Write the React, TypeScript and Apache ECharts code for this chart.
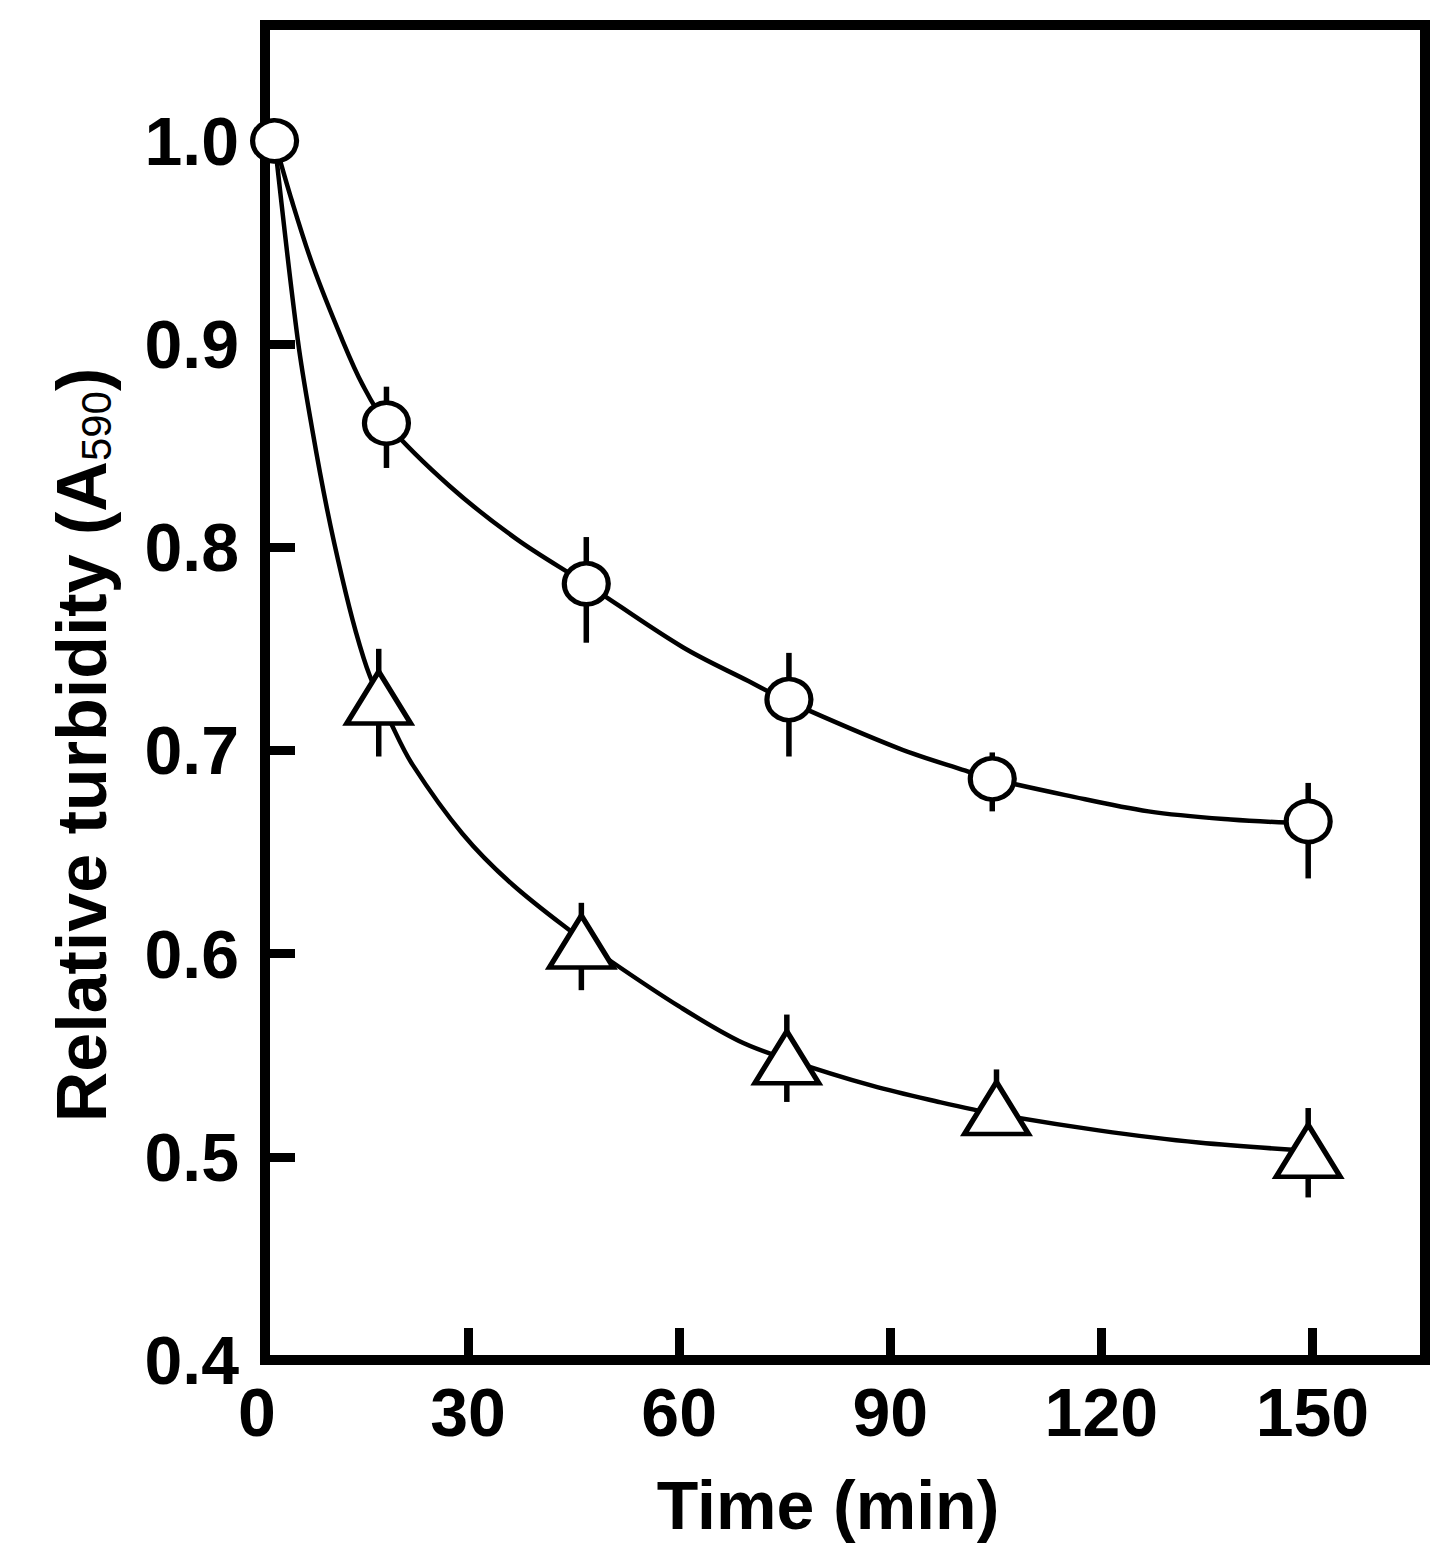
import React, { useEffect, useRef } from "react";
import * as echarts from "echarts";

// Marker data
const circleTime = [2.5, 18.4, 46.8, 75.6, 104.5, 149.4];
const circleValue = [1.0, 0.861, 0.782, 0.725, 0.686, 0.665];
const circleUpper = [1.0, 0.879, 0.805, 0.748, 0.699, 0.684];
const circleLower = [1.0, 0.839, 0.753, 0.697, 0.67, 0.637];

const triangleTime = [17.3, 46.1, 75.3, 105.1, 149.4];
const triangleValue = [0.726, 0.606, 0.549, 0.524, 0.503];
const triangleUpper = [0.75, 0.625, 0.57, 0.543, 0.524];
const triangleLower = [0.697, 0.582, 0.527, 0.512, 0.48];

// Fitted curves
const circleFitTime = [2.5, 5.0, 8.0, 12.0, 15.0, 18.4, 27.4, 36.9, 46.8, 60.4, 69.9, 75.6, 91.2, 100.7, 104.5, 114.9, 126.7, 138.4, 149.4];
const circleFitValue = [1.0, 0.97, 0.938, 0.903, 0.88, 0.861, 0.83, 0.804, 0.782, 0.751, 0.734, 0.724, 0.701, 0.69, 0.686, 0.678, 0.67, 0.666, 0.664];

const triangleFitTime = [2.5, 5.8, 7.9, 10.0, 12.1, 14.0, 16.0, 19.1, 22.1, 29.2, 36.3, 46.1, 50.4, 60.0, 68.5, 75.3, 87.4, 96.9, 105.1, 119.6, 133.8, 149.4];
const triangleFitValue = [1.0, 0.902, 0.857, 0.818, 0.785, 0.759, 0.737, 0.713, 0.693, 0.659, 0.634, 0.607, 0.596, 0.574, 0.557, 0.548, 0.535, 0.527, 0.521, 0.513, 0.507, 0.503];

// Axis ticks / labels
const xLabelValues = [0, 30, 60, 90, 120, 150];
const xTickValues = [30, 60, 90, 120, 150];
const yLabelValues = [0.4, 0.5, 0.6, 0.7, 0.8, 0.9, 1.0];
const yTickValues = [0.5, 0.6, 0.7, 0.8, 0.9, 1.0];

const xTitle = "Time (min)";
const yTitleMain = "Relative turbidity (A";
const yTitleSub = "590";
const yTitleEnd = ")";

export default function App() {
  const ref = useRef<HTMLDivElement>(null);

  useEffect(() => {
    document.body.style.margin = "0";
    const chart = echarts.init(ref.current as HTMLDivElement, null, { renderer: "svg" });
    const font = "'Liberation Sans', Arial, Helvetica, sans-serif";

    const errorBar = (params: any, api: any) => {
      const x = api.value(0);
      const p1 = api.coord([x, api.value(1)]);
      const p2 = api.coord([x, api.value(2)]);
      return {
        type: "line",
        shape: { x1: p1[0], y1: p1[1], x2: p2[0], y2: p2[1] },
        style: { stroke: "#000", lineWidth: 5.5 },
      };
    };

    const circleBars = circleTime
      .map((t, i) => [t, circleLower[i], circleUpper[i]])
      .filter((d) => d[2] - d[1] > 0);
    const triangleBars = triangleTime.map((t, i) => [t, triangleLower[i], triangleUpper[i]]);

    const option: any = {
      animation: false,
      backgroundColor: "#fff",
      grid: { left: 257, right: 29, top: 25, bottom: 208, containLabel: false, outerBoundsMode: "none" },
      xAxis: {
        type: "value",
        min: 0,
        max: 166,
        interval: 30,
        axisLine: { show: false },
        splitLine: { show: false },
        axisTick: {
          show: true,
          inside: true,
          length: 32,
          customValues: xTickValues,
          lineStyle: { color: "#000", width: 9 },
        },
        axisLabel: {
          customValues: xLabelValues,
          color: "#000",
          fontFamily: font,
          fontWeight: "bold",
          fontSize: 68,
          margin: 18,
        },
      },
      yAxis: {
        type: "value",
        min: 0.4,
        max: 1.057,
        interval: 0.1,
        offset: -8,
        axisLine: { show: false },
        splitLine: { show: false },
        axisTick: {
          show: true,
          inside: true,
          length: 30,
          customValues: yTickValues,
          lineStyle: { color: "#000", width: 9 },
        },
        axisLabel: {
          customValues: yLabelValues,
          color: "#000",
          fontFamily: font,
          fontWeight: "bold",
          fontSize: 68,
          margin: 26,
          formatter: (v: number) => v.toFixed(1),
        },
      },
      graphic: [
        {
          type: "rect",
          z: 0,
          shape: { x: 265, y: 25, width: 1160, height: 1335 },
          style: { fill: "none", stroke: "#000", lineWidth: 10 },
        },
        {
          type: "text",
          x: 828,
          y: 1505,
          style: {
            text: xTitle,
            fill: "#000",
            font: `bold 68px ${font}`,
            align: "center",
            verticalAlign: "middle",
          },
        },
        {
          type: "text",
          x: 75,
          y: 745,
          rotation: Math.PI / 2,
          style: {
            text: `{a|${yTitleMain}}{s|${yTitleSub}}{a|${yTitleEnd}}`,
            fill: "#000",
            align: "center",
            verticalAlign: "middle",
            rich: {
              a: { fontFamily: font, fontWeight: "bold", fontSize: 70, lineHeight: 84, fill: "#000", verticalAlign: "bottom" },
              s: { fontFamily: font, fontWeight: "normal", fontSize: 42, lineHeight: 50, fill: "#000", verticalAlign: "bottom" },
            },
          },
        },
      ],
      series: [
        {
          type: "custom",
          name: "circleErr",
          renderItem: errorBar,
          encode: { x: 0, y: [1, 2] },
          data: circleBars,
          z: 1,
          silent: true,
        },
        {
          type: "custom",
          name: "triangleErr",
          renderItem: errorBar,
          encode: { x: 0, y: [1, 2] },
          data: triangleBars,
          z: 1,
          silent: true,
        },
        {
          type: "line",
          name: "circleFit",
          data: circleFitTime.map((t, i) => [t, circleFitValue[i]]),
          showSymbol: false,
          symbol: "none",
          smooth: 0.35,
          lineStyle: { color: "#000", width: 4.5 },
          z: 2,
          silent: true,
        },
        {
          type: "line",
          name: "triangleFit",
          data: triangleFitTime.map((t, i) => [t, triangleFitValue[i]]),
          showSymbol: false,
          symbol: "none",
          smooth: 0.35,
          lineStyle: { color: "#000", width: 4.5 },
          z: 2,
          silent: true,
        },
        {
          type: "scatter",
          name: "triangle",
          data: triangleTime.map((t, i) => [t, triangleValue[i]]),
          symbol: "triangle",
          symbolSize: [64, 52],
          itemStyle: { color: "#fff", borderColor: "#000", borderWidth: 5, opacity: 1 },
          z: 5,
        },
        {
          type: "scatter",
          name: "circle",
          data: circleTime.map((t, i) => [t, circleValue[i]]),
          symbol: "circle",
          symbolSize: [44, 41],
          itemStyle: { color: "#fff", borderColor: "#000", borderWidth: 5, opacity: 1 },
          z: 6,
        },
      ],
    };

    chart.setOption(option);
    return () => {
      chart.dispose();
    };
  }, []);

  return <div ref={ref} style={{ width: 1454, height: 1568 }} />;
}
